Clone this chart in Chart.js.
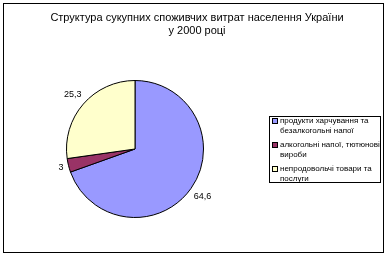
<!DOCTYPE html>
<html>
<head>
<meta charset="utf-8">
<script src="https://cdn.jsdelivr.net/npm/chart.js@4"></script>
<style>
  html, body { margin: 0; padding: 0; background: #fff; }
  canvas { display: block; }
</style>
</head>
<body>
<canvas id="pieChart" width="390" height="258"></canvas>
<script>
// Data
const titleLines = ['Структура сукупних споживчих витрат населення України', 'у 2000 році'];
const categories = [
    ['продукти харчування та', 'безалкогольні напої'],
    ['алкогольні напої, тютюнові', 'вироби'],
    ['непродовольчі товари та', 'послуги']
];
const values = [64.6, 3, 25.3];
const valueLabels = ['64,6', '3', '25,3'];
const colors = ['#9999FF', '#993366', '#FFFFCC'];

const FONT = '"Liberation Sans", Arial, sans-serif';

// frame, title, value labels and legend drawn after the pie
const extras = {
    id: 'extras',
    afterDraw(chart) {
        const ctx = chart.ctx;
        ctx.save();

        // outer frame
        ctx.strokeStyle = '#000';
        ctx.lineWidth = 1;
        ctx.strokeRect(3.5, 3.5, 380, 249);

        // title
        ctx.fillStyle = '#000';
        ctx.font = '11px ' + FONT;
        ctx.textAlign = 'center';
        ctx.textBaseline = 'middle';
        ctx.fillText(titleLines[0], 197, 18);
        ctx.fillText(titleLines[1], 197, 31);

        // value labels outside each slice
        ctx.font = '9px ' + FONT;
        const meta = chart.getDatasetMeta(0);
        meta.data.forEach((arc, i) => {
            const p = arc.getProps(['x', 'y', 'startAngle', 'endAngle', 'outerRadius'], true);
            const mid = (p.startAngle + p.endAngle) / 2;
            const w = ctx.measureText(valueLabels[i]).width;
            const off = Math.abs(Math.cos(mid)) * w / 2 + Math.abs(Math.sin(mid)) * 5;
            const r = p.outerRadius + 4 + off;
            ctx.fillText(valueLabels[i], p.x + Math.cos(mid) * r, p.y + Math.sin(mid) * r);
        });

        // legend box
        ctx.strokeRect(269.5, 116.5, 111, 66);
        ctx.font = '8px ' + FONT;
        ctx.textAlign = 'left';
        let y = 121;
        categories.forEach((lines, i) => {
            ctx.fillStyle = colors[i];
            ctx.fillRect(272, y - 3, 5, 5);
            ctx.strokeRect(272.5, y - 2.5, 5, 5);
            ctx.fillStyle = '#000';
            lines.forEach((t, j) => ctx.fillText(t, 280, y + j * 10));
            y += 24;
        });

        ctx.restore();
    }
};

new Chart(document.getElementById('pieChart'), {
    type: 'pie',
    data: {
        labels: categories.map(l => l.join(' ')),
        datasets: [{
            data: values,
            backgroundColor: colors,
            borderColor: '#000',
            borderWidth: 1
        }]
    },
    options: {
        responsive: false,
        animation: false,
        devicePixelRatio: 1,
        layout: { padding: { left: 66, right: 186, top: 80, bottom: 40 } },
        plugins: {
            legend: { display: false },
            title: { display: false },
            tooltip: { enabled: false }
        }
    },
    plugins: [extras]
});
</script>
</body>
</html>
